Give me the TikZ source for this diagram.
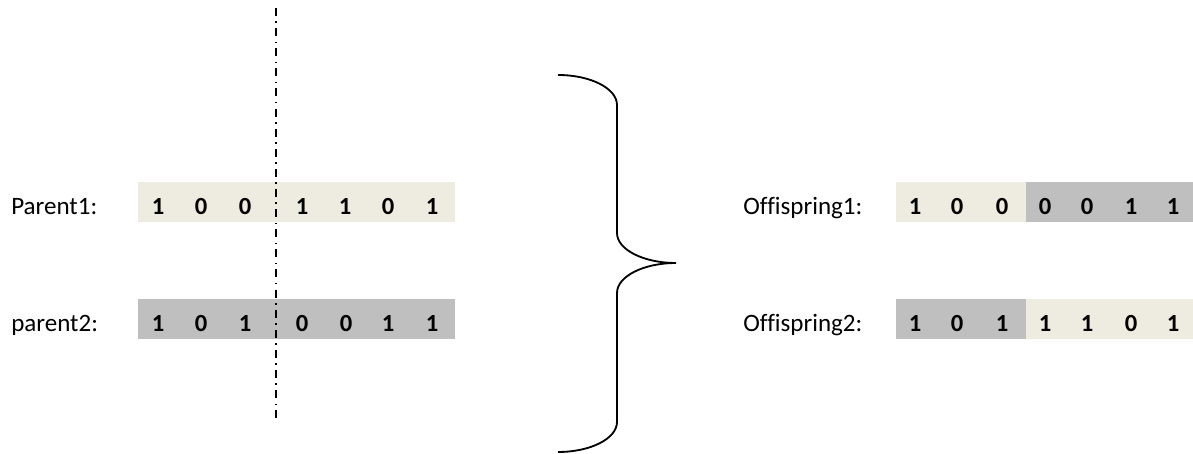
\documentclass[tikz,border=0pt]{standalone}
\usepackage{fontspec}
\setmainfont[Numbers=Lining, Ligatures=NoCommon]{Carlito}

\definecolor{genea}{HTML}{EEECE1}
\definecolor{geneb}{HTML}{BFBFBF}

\tikzset{
    lbl/.style={anchor=base west, inner sep=0pt, font=\fontsize{17.8}{20}\selectfont},
    bit/.style={anchor=base, inner sep=0pt, font=\fontsize{17.5}{20}\selectfont\bfseries},
}

\begin{document}
\begin{tikzpicture}[x=0.025cm, y=0.025cm]
    \useasboundingbox (0,0) rectangle (1193,454);

    % Draw chromosome bars
    \fill[genea] (138,232) rectangle (455,272);
    \fill[geneb] (138,115) rectangle (455,155);
    \fill[genea] (896,232) rectangle (1026,272);
    \fill[geneb] (1026,232) rectangle (1200,272);
    \fill[geneb] (896,115) rectangle (1026,155);
    \fill[genea] (1026,115) rectangle (1200,155);

    % Draw labels
    \node[lbl] (par1) at (11,239) {Parent1:};
    \node[lbl] (par2) at (11,122) {parent2:};
    \node[lbl] (off1) at (743,239) {Offispring1:};
    \node[lbl] (off2) at (743,122) {Offispring2:};

    % Draw bits
    \foreach \x/\b [count=\i] in {158/1, 201/0, 245/0, 302/1, 345/1, 388/0, 432/1}
        \node[bit] (pa\i) at (\x,239) {\b};
    \foreach \x/\b [count=\i] in {158/1, 201/0, 245/1, 302/0, 346/0, 388/1, 432/1}
        \node[bit] (pb\i) at (\x,122) {\b};
    \foreach \x/\b [count=\i] in {915/1, 957/0, 1002/0, 1045/0, 1087/0, 1131/1, 1173/1}
        \node[bit] (oa\i) at (\x,239) {\b};
    \foreach \x/\b [count=\i] in {915/1, 957/0, 1002/1, 1045/1, 1087/1, 1131/0, 1173/1}
        \node[bit] (ob\i) at (\x,122) {\b};

    % Draw crossover point
    \coordinate (cuttop) at (276,446);
    \coordinate (cutbot) at (276,31);
    \draw[line width=0.9pt, dash pattern=on 5.7pt off 3.9pt on 1.1pt off 3.6pt] (cuttop) -- (cutbot);

    % Draw brace
    \draw[line width=1.3pt] (558,379)
        arc[start angle=90, end angle=0, x radius=59, y radius=30] -- (617,221)
        arc[start angle=180, end angle=270, x radius=59, y radius=30]
        arc[start angle=90, end angle=180, x radius=59, y radius=30] -- (617,32)
        arc[start angle=0, end angle=-90, x radius=59, y radius=30];
\end{tikzpicture}
\end{document}
